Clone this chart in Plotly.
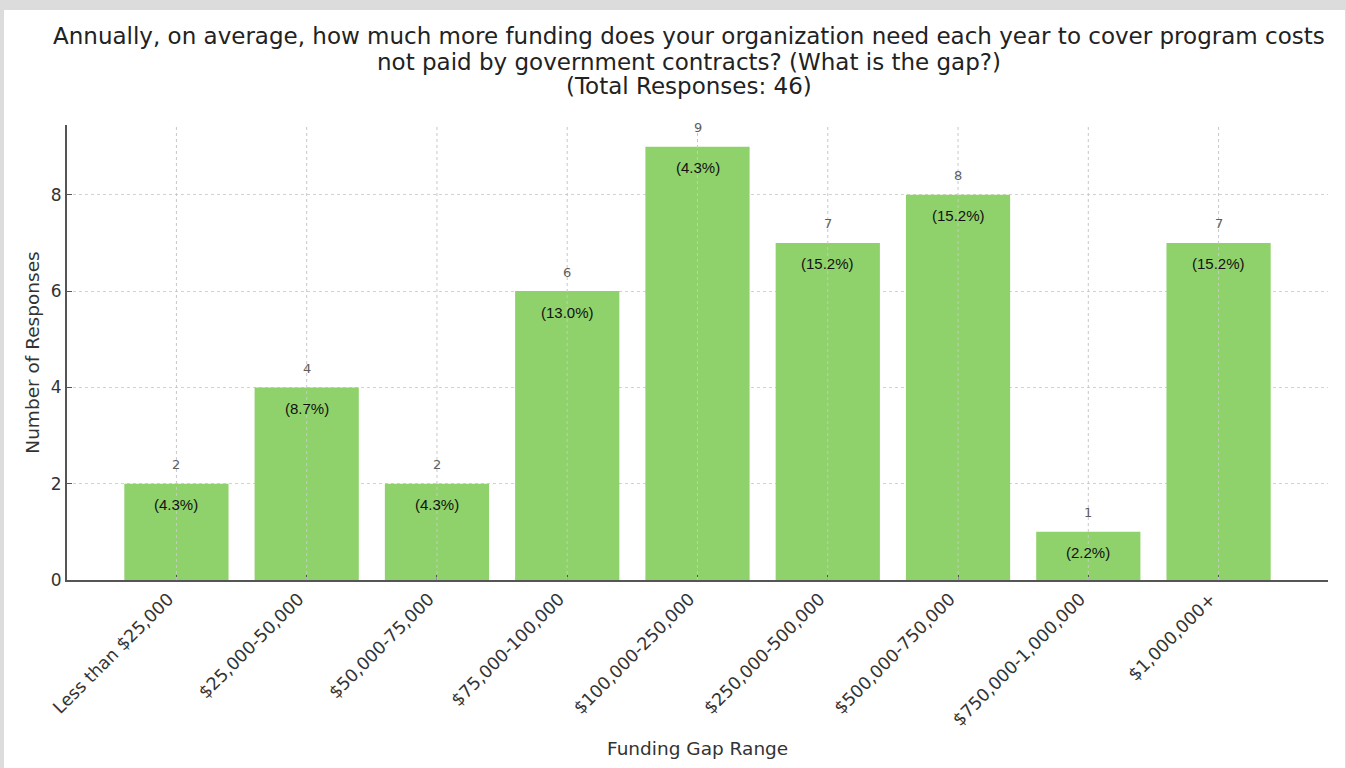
import plotly.graph_objects as go

# Survey results: funding gap ranges
categories = [
    "Less than $25,000",
    "$25,000-50,000",
    "$50,000-75,000",
    "$75,000-100,000",
    "$100,000-250,000",
    "$250,000-500,000",
    "$500,000-750,000",
    "$750,000-1,000,000",
    "$1,000,000+",
]
counts = [2, 4, 2, 6, 9, 7, 8, 1, 7]
pct_labels = ["(4.3%)", "(8.7%)", "(4.3%)", "(13.0%)", "(4.3%)",
              "(15.2%)", "(15.2%)", "(2.2%)", "(15.2%)"]
y_ticks = [0, 2, 4, 6, 8]

title_lines = [
    "Annually, on average, how much more funding does your organization need each year to cover program costs",
    "not paid by government contracts? (What is the gap?)",
    "(Total Responses: 46)",
]

BAR_COLOR = "#8fd16a"
AXIS_COLOR = "#555555"
GRID_COLOR = "#d2d2d2"
LABEL_FONT = "DejaVu Sans"

# plot-area geometry in pixels (used to place page-level decorations)
L, R, T, B = 67, 1328, 125, 580
PW, PH = R - L, B - T


def px_to_paper_y(py):
    return (B - py) / PH


def px_to_paper_x(px):
    return (px - L) / PW


fig = go.Figure()
fig.add_trace(go.Bar(
    x=categories, y=counts, width=0.8,
    marker=dict(color=BAR_COLOR, line=dict(width=0)),
    hoverinfo="x+y", showlegend=False,
))

annotations = []
for cat, n, pct in zip(categories, counts, pct_labels):
    annotations.append(dict(
        x=cat, y=n, text=str(n), showarrow=False, yshift=19,
        font=dict(family="DejaVu Sans", size=13, color="#5e5e5e"),
    ))
    annotations.append(dict(
        x=cat, y=n, text=pct, showarrow=False, yshift=-21,
        font=dict(family="Liberation Sans", size=15, color="#111111"),
    ))

# three-line title
for line, py in zip(title_lines, [36, 62, 86]):
    annotations.append(dict(
        xref="paper", yref="paper", x=px_to_paper_x(689), y=px_to_paper_y(py),
        xanchor="center", yanchor="middle", showarrow=False, text=line,
        font=dict(family="DejaVu Sans", size=23, color="#222222"),
    ))

# x-axis title
annotations.append(dict(
    xref="paper", yref="paper", x=px_to_paper_x(697), y=px_to_paper_y(748),
    xanchor="center", yanchor="middle", showarrow=False,
    text="Funding Gap Range",
    font=dict(family=LABEL_FONT, size=18.5, color="#333333"),
))

shapes = [
    # white card on the grey page
    dict(type="rect", xref="paper", yref="paper",
         x0=px_to_paper_x(4), x1=px_to_paper_x(1345),
         y0=px_to_paper_y(768), y1=px_to_paper_y(10),
         fillcolor="white", line=dict(width=0), layer="below"),
]
# vertical dotted grid lines drawn over the bars
for cat in categories:
    shapes.append(dict(
        type="line", xref="x", yref="paper", x0=cat, x1=cat, y0=0, y1=1,
        line=dict(color="#c8c8c8", width=1, dash="dot"), layer="above",
    ))

fig.update_layout(
    width=1346, height=768,
    margin=dict(l=L, r=1346 - R, t=T, b=768 - B),
    paper_bgcolor="#dcdcdc",
    plot_bgcolor="white",
    bargap=0.2,
    annotations=annotations,
    shapes=shapes,
    xaxis=dict(
        type="category", range=[-0.84, 8.84],
        showgrid=False,
        showline=True, linecolor=AXIS_COLOR, linewidth=2,
        ticks="inside", ticklen=5, tickcolor=AXIS_COLOR,
        tickangle=-45, ticklabelshift=-8,
        tickfont=dict(family=LABEL_FONT, size=17.5, color="#333333"),
    ),
    yaxis=dict(
        range=[0, 9.45],
        tickvals=y_ticks,
        showgrid=True, gridcolor=GRID_COLOR, griddash="dot", gridwidth=1,
        zeroline=False,
        showline=True, linecolor=AXIS_COLOR, linewidth=2,
        ticks="inside", ticklen=5, tickcolor=AXIS_COLOR,
        tickfont=dict(family="DejaVu Sans", size=17, color="#333333"),
        title=dict(text="Number of Responses", standoff=6,
                   font=dict(family=LABEL_FONT, size=18.5, color="#333333")),
    ),
)

fig.write_html("out.html")
